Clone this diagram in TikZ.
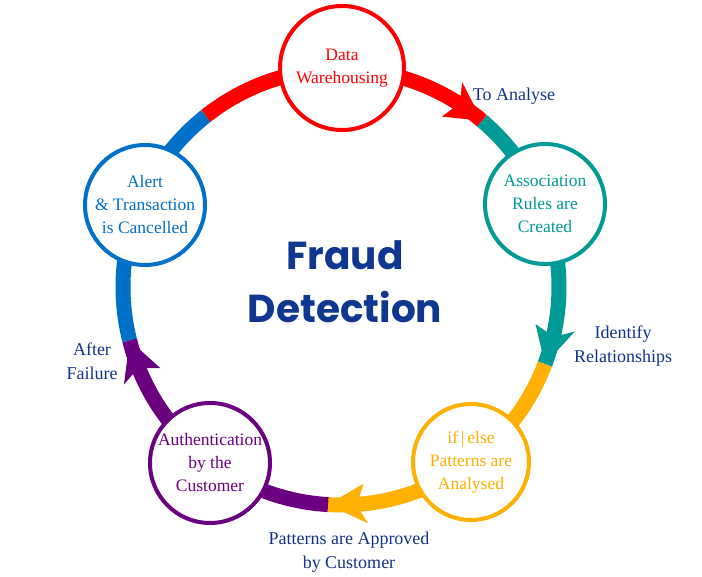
\documentclass[tikz,border=0pt]{standalone}
\usepackage{fontspec}
\setmainfont{Liberation Serif}
\newfontfamily\titlefont{Poppins}
\definecolor{cred}{RGB}{255,0,0}
\definecolor{cteal}{RGB}{0,155,150}
\definecolor{corange}{RGB}{255,176,0}
\definecolor{cpurple}{RGB}{107,0,128}
\definecolor{cblue}{RGB}{0,112,200}
\definecolor{clabel}{RGB}{20,50,140}
\definecolor{ctitle}{RGB}{15,55,145}
\newcommand{\ringhead}[3]{%
  \fill[#1] ([shift={(#2:218)}]O) -- ([shift={(#3:238)}]O) -- ([shift={({#3-0.15*(#3-#2)}:225.5)}]O)
    -- ([shift={({#3-0.15*(#3-#2)}:210.5)}]O) -- ([shift={(#3:198)}]O) -- cycle;}
\begin{document}
\begin{tikzpicture}[x=1pt,y=1pt,
  band/.style={line width=15pt},
  circ/.style={circle, line width=4pt, fill=white, inner sep=0pt, align=center,
     font=\fontsize{17.5}{23}\selectfont},
  lbl/.style={inner sep=0pt, align=center, text=clabel, font=\fontsize{18}{24}\selectfont}]
\useasboundingbox (0,0) rectangle (702,-577);
\coordinate (O) at (341,-287);
% ring bands
\draw[band, cblue] ([shift={(194.2:218)}]O) arc[start angle=194.2, end angle=128.3, radius=218pt];
\draw[band, cred] ([shift={(128.3:218)}]O) arc[start angle=128.3, end angle=49.7, radius=218pt];
\draw[band, cteal] ([shift={(49.7:218)}]O) arc[start angle=49.7, end angle=-20.7, radius=218pt];
\draw[band, corange] ([shift={(-20.7:218)}]O) arc[start angle=-20.7, end angle=-93.4, radius=218pt];
\draw[band, cpurple] ([shift={(-93.4:218)}]O) arc[start angle=-93.4, end angle=-165.8, radius=218pt];
% arrow heads
\ringhead{cred}{49.7}{59.4}
\ringhead{cteal}{-20.7}{-10.8}
\ringhead{corange}{-93.4}{-83.5}
\ringhead{cpurple}{194.2}{204.2}
% circles
\node[circ, draw=cred, text=cred, minimum size=124pt] (dw) at (342,-68) {Data\\Warehousing};
\node[circ, draw=cteal, text=cteal, minimum size=120pt] (ar) at (545,-204) {Association\\Rules are\\Created};
\node[circ, draw=corange, text=corange, minimum size=116pt] (pa) at (471,-462) {if\,|\,else\\Patterns are\\Analysed};
\node[circ, draw=cpurple, text=cpurple, minimum size=120pt] (au) at (210,-463) {Authentication\\by the\\Customer};
\node[circ, draw=cblue, text=cblue, minimum size=120pt] (al) at (145,-205) {Alert\\\&~Transaction\\is Cancelled};
% labels
\node[lbl] (l1) at (514,-96) {To Analyse};
\node[lbl] (l2) at (623,-346) {Identify\\Relationships};
\node[lbl] (l3) at (349,-552) {Patterns are Approved\\by Customer};
\node[lbl] (l4) at (92,-361) {After\\Failure};
% title
\node[inner sep=0pt, align=center, text=ctitle, font=\titlefont\bfseries\fontsize{39}{53}\selectfont] (t) at (345,-282) {Fraud\\Detection};
\end{tikzpicture}
\end{document}
